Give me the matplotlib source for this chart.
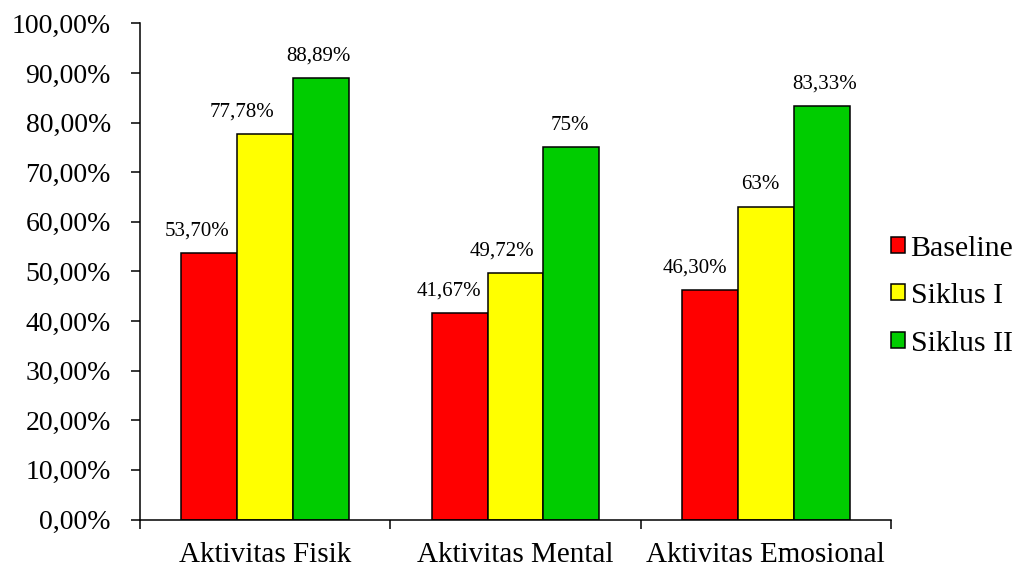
import matplotlib
matplotlib.use('Agg')
import matplotlib.pyplot as plt
import numpy as np

plt.rcParams['font.family'] = ['Liberation Serif', 'DejaVu Serif']

kategori = ['Aktivitas Fisik', 'Aktivitas Mental', 'Aktivitas Emosional']
seri = ['Baseline', 'Siklus I', 'Siklus II']
nilai_baseline = [53.70, 41.67, 46.30]
nilai_siklus1 = [77.78, 49.72, 63.0]
nilai_siklus2 = [88.89, 75.0, 83.33]
label_baseline = ['53,70%', '41,67%', '46,30%']
label_siklus1 = ['77,78%', '49,72%', '63%']
label_siklus2 = ['88,89%', '75%', '83,33%']

warna = ['#FF0000', '#FFFF00', '#00CC00']
# geser label sedikit ke kiri (dalam point)
geser_label = [[-9, -8, -11], [-17, -10, -4], [-2, -1, 2]]

fig = plt.figure(figsize=(10.15, 5.64), dpi=100)
ax = fig.add_axes([0.1379, 0.0789, 0.7399, 0.8798])

x = np.arange(len(kategori))
lebar = 0.223
semua = [nilai_baseline, nilai_siklus1, nilai_siklus2]
semua_label = [label_baseline, label_siklus1, label_siklus2]
for i, (nama, data, teks) in enumerate(zip(seri, semua, semua_label)):
    posisi = x + (i - 1) * lebar
    ax.bar(posisi, data, lebar, color=warna[i], edgecolor='black',
           linewidth=1.1, label=nama, zorder=2)
    for j, (px, v, t) in enumerate(zip(posisi, data, teks)):
        ax.annotate(t, (px, v), xytext=(geser_label[i][j], 9),
                    textcoords='offset points', ha='center', va='bottom',
                    fontsize=15)

ax.set_xlim(-0.5, 2.5)
ax.set_ylim(0, 100)
ax.set_yticks(np.arange(0, 101, 10))
ax.set_yticklabels(['%d,00%%' % v for v in range(0, 101, 10)])
ax.set_xticks(x)
ax.set_xticklabels(kategori)
ax.set_xticks([-0.5, 0.5, 1.5, 2.5], minor=True)

ax.tick_params(axis='y', direction='out', length=6.5, width=1.1, pad=14.5,
               labelsize=20)
ax.tick_params(axis='x', which='major', length=0, pad=16, labelsize=21)
ax.tick_params(axis='x', which='minor', direction='out', length=6.5, width=1.1)

for s in ['top', 'right']:
    ax.spines[s].set_visible(False)
for s in ['left', 'bottom']:
    ax.spines[s].set_linewidth(1.1)

ax.legend(loc='center left', bbox_to_anchor=(0.878, 0.475),
          bbox_transform=fig.transFigure, frameon=False, fontsize=21.5,
          handlelength=0.45, handleheight=0.45, handletextpad=0.2,
          labelspacing=0.72, borderaxespad=0, borderpad=0)

fig.savefig('out.png', dpi=100)
